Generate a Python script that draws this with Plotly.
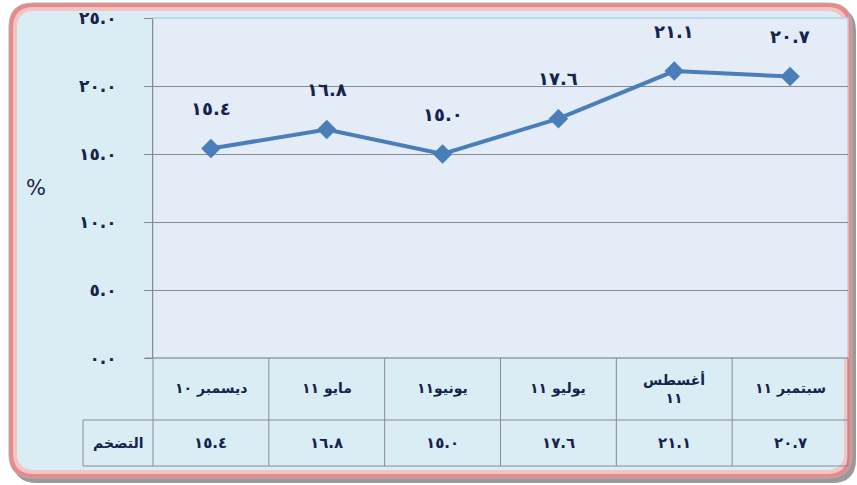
import plotly.graph_objects as go

categories = ["ديسمبر ١٠", "مايو ١١", "يونيو١١", "يوليو ١١", "أغسطس<br>١١", "سبتمبر ١١"]
inflation = [15.4, 16.8, 15.0, 17.6, 21.1, 20.7]
series_name = "التضخم"
tick_vals = [0, 5, 10, 15, 20, 25]
tick_text = ["٠.٠", "٥.٠", "١٠.٠", "١٥.٠", "٢٠.٠", "٢٥.٠"]
y_title = "%"

AR = str.maketrans("0123456789", "٠١٢٣٤٥٦٧٨٩")
def ar(v):
    return f"{v:.1f}".translate(AR)

W, H = 857, 485
L, R, T, B = 153, 848, 18, 358
def px(x):
    return (x - L) / (R - L)
def py(y):
    return (B - y) / (B - T)

def rrect(x0, y0, x1, y1, r):
    rx = r / (R - L)
    ry = r / (B - T)
    X0, X1, Y0, Y1 = px(x0), px(x1), py(y0), py(y1)
    return (f"M {X0+rx},{Y0} L {X1-rx},{Y0} Q {X1},{Y0} {X1},{Y0-ry} "
            f"L {X1},{Y1+ry} Q {X1},{Y1} {X1-rx},{Y1} L {X0+rx},{Y1} "
            f"Q {X0},{Y1} {X0},{Y1+ry} L {X0},{Y0-ry} Q {X0},{Y0} {X0+rx},{Y0} Z")

navy = "#15234d"
line_col = "#4a7ebb"
grid = "#8a8a8a"
FONT = "DejaVu Sans, Arial"

fig = go.Figure()
fig.add_trace(go.Scatter(
    x=list(range(len(categories))), y=inflation, mode="lines+markers",
    line=dict(color=line_col, width=4),
    marker=dict(symbol="diamond", size=15, color=line_col),
    hoverinfo="skip", showlegend=False, cliponaxis=False,
))

shapes = []
shapes.append(dict(type="path", xref="paper", yref="paper", path=rrect(13, 7, 856, 483, 24),
                   fillcolor="#9a9a9a", line=dict(width=0), layer="below"))
shapes.append(dict(type="path", xref="paper", yref="paper", path=rrect(9, 3, 852, 478, 24),
                   fillcolor="#e88a8a", line=dict(color="#b0b0b0", width=1), layer="below"))
shapes.append(dict(type="path", xref="paper", yref="paper", path=rrect(13, 7, 848, 474, 21),
                   fillcolor="#f3c4c4", line=dict(width=0), layer="below"))
shapes.append(dict(type="path", xref="paper", yref="paper", path=rrect(17, 11, 844, 470, 17),
                   fillcolor="#dbedf4", line=dict(width=0), layer="below"))
shapes.append(dict(type="rect", xref="paper", yref="paper", x0=0, x1=1, y0=0, y1=1,
                   fillcolor="#e3ecf7", line=dict(color="#b9cfe6", width=1.5), layer="below"))
tl = dict(color=grid, width=1)
y_row1, y_end, x_lab = 420, 466, 83
shapes.append(dict(type="line", xref="paper", yref="paper", x0=px(145), x1=1, y0=0, y1=0, line=tl))
shapes.append(dict(type="line", xref="paper", yref="paper", x0=px(x_lab), x1=1, y0=py(y_row1), y1=py(y_row1), line=tl))
shapes.append(dict(type="line", xref="paper", yref="paper", x0=px(x_lab), x1=1, y0=py(y_end), y1=py(y_end), line=tl))
shapes.append(dict(type="line", xref="paper", yref="paper", x0=px(x_lab), x1=px(x_lab), y0=py(y_row1), y1=py(y_end), line=tl))
n = len(categories)
for i in range(n + 1):
    xx = i / n
    shapes.append(dict(type="line", xref="paper", yref="paper", x0=xx, x1=xx, y0=0, y1=py(y_end), line=tl))

ann = []
for i, v in enumerate(inflation):
    ann.append(dict(x=i, y=v, xref="x", yref="y", text="<b>" + ar(v) + "</b>", showarrow=False,
                    xanchor="center", yshift=40, font=dict(family=FONT, size=18, color=navy)))
    ann.append(dict(x=i, y=py((B + y_row1) / 2), xref="x", yref="paper", text="<b>" + categories[i] + "</b>",
                    showarrow=False, xanchor="center", yanchor="middle",
                    font=dict(family=FONT, size=14, color=navy)))
    ann.append(dict(x=i, y=py((y_row1 + y_end) / 2), xref="x", yref="paper", text="<b>" + ar(v) + "</b>",
                    showarrow=False, xanchor="center", yanchor="middle",
                    font=dict(family=FONT, size=15, color=navy)))
ann.append(dict(x=px((x_lab + L) / 2), y=py((y_row1 + y_end) / 2), xref="paper", yref="paper",
                text="<b>" + series_name + "</b>", showarrow=False, xanchor="center", yanchor="middle",
                font=dict(family=FONT, size=14, color=navy)))
ann.append(dict(x=px(36), y=py(188), xref="paper", yref="paper", text=y_title, showarrow=False,
                xanchor="center", yanchor="middle",
                font=dict(family=FONT, size=21, color=navy)))

fig.update_layout(
    width=W, height=H,
    margin=dict(l=L, r=W - R, t=T, b=H - B, pad=0),
    paper_bgcolor="white", plot_bgcolor="rgba(0,0,0,0)",
    shapes=shapes, annotations=ann,
    xaxis=dict(range=[-0.5, n - 0.5], showgrid=False, zeroline=False, showticklabels=False,
               showline=False, ticks=""),
    yaxis=dict(range=[0, 25], tickvals=tick_vals, ticktext=["<b>" + t + "</b>" for t in tick_text],
               showgrid=True, gridcolor=grid, gridwidth=1, zeroline=False, showline=True,
               linecolor=grid, linewidth=1, ticks="outside", ticklen=8, tickcolor=grid,
               ticklabelstandoff=24,
               tickfont=dict(family=FONT, size=17, color=navy)),
)

fig.write_html("out.html", config={"displayModeBar": False},
               post_script="document.body.style.margin='0px';document.body.style.padding='0px';")
